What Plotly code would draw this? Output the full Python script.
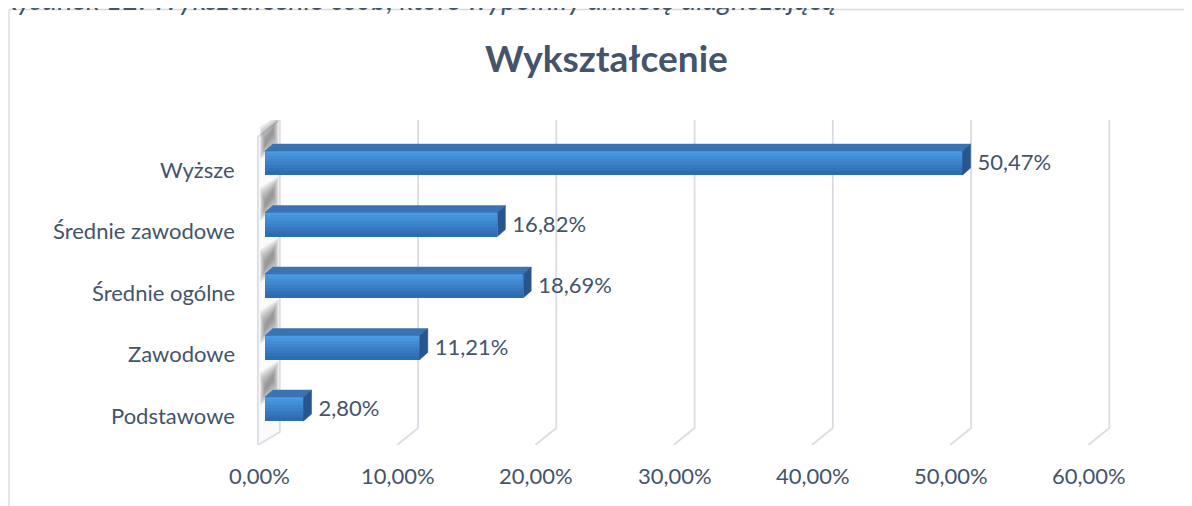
import plotly.graph_objects as go

# ---------------- data ----------------
categories = ["Podstawowe", "Zawodowe", "Średnie ogólne", "Średnie zawodowe", "Wyższe"]
values = [2.80, 11.21, 18.69, 16.82, 50.47]
tick_values = [0, 10, 20, 30, 40, 50, 60]
tick_labels = ["0,00%", "10,00%", "20,00%", "30,00%", "40,00%", "50,00%", "60,00%"]
title_text = "Wykształcenie"
caption_text = "Rysunek 12. Wykształcenie osób, które wypełniły ankietę diagnozującą"

# ---------------- layout constants (page offset of 8px body margin) ----------------
OFF = 8
W, H = 1192 - OFF, 506 - OFF
ML, MR, MT, MB = 251 - OFF, 70, 120 - OFF, 61
XR = [-1, 62]
YR = [-0.585, 4.70]
PW, PH = W - ML - MR, H - MT - MB
PXX = PW / (XR[1] - XR[0])   # px per x unit
PXY = PH / (YR[1] - YR[0])   # px per y unit

def ux(px):
    return px / PXX

def uy(px):
    return px / PXY

def paper_x(px):   # px in page coordinates
    return (px - OFF - ML) / PW

def paper_y(py):   # py in page coordinates
    return (H - MB - (py - OFF)) / PH

def poly(xs, ys):
    pts = " L ".join(f"{x},{y}" for x, y in zip(xs, ys))
    return f"M {pts} Z"

TEXT = "#44546A"
FONT = "Lato"
GRID = "#D9DDE4"

fig = go.Figure()
shapes = []

# ---- side wall (left) ----
wl, wr = -0.5, ux(15)
wall_x = [wl, wr, wr, wl]
wall_y = [YR[1] - uy(17), YR[1], YR[0] + uy(13), YR[0]]
shapes.append(dict(type="path", xref="x", yref="y", layer="below",
                   path=poly(wall_x, wall_y), fillcolor="#FAFAFA",
                   line=dict(color=GRID, width=1.8)))

# soft wall shadows cast by each bar
h = uy(24)
for i, _ in enumerate(categories):
    for k in range(6):
        top = i + h / 2 + uy(36) - uy(2.5 * k)
        bot = i + h / 2 - uy(6) + uy(2.5 * k)
        xl = wl + 0.15 + k * 0.07
        xr = wr - 0.1 - k * 0.07
        sx = [xl, xr, xr, xl]
        sy = [top - uy(12), top, bot + uy(10), bot - uy(2)]
        shapes.append(dict(type="path", xref="x", yref="y", layer="below",
                           path=poly(sx, sy), fillcolor="rgba(70,70,70,0.12)",
                           line=dict(width=0)))

# ---- gridlines (back plane + floor diagonal) ----
gdx_back = ux(15)
gdx_front = -ux(6)
for t in tick_values[1:]:
    gx = [t + gdx_back, t + gdx_back, t + gdx_front]
    gy = [YR[1], YR[0] + uy(17), YR[0]]
    shapes.append(dict(type="path", xref="x", yref="y", layer="below",
                       path="M " + " L ".join(f"{x},{y}" for x, y in zip(gx, gy)),
                       line=dict(color=GRID, width=1.8)))

# ---- bars: front face as gradient strips ----
n_strips = 8
top_col = (74, 156, 228)
bot_col = (46, 108, 178)
for s in range(n_strips):
    f = s / (n_strips - 1)
    c = tuple(int(top_col[j] + (bot_col[j] - top_col[j]) * f) for j in range(3))
    off = h / 2 - (s + 1) * h / n_strips
    fig.add_trace(go.Bar(
        x=values, y=list(range(len(categories))), orientation="h",
        width=h / n_strips + 0.012, offset=off,
        marker=dict(color=f"rgb{c}", line=dict(width=0)),
        hoverinfo="skip", showlegend=False))

# top and side faces
dxs, dys = ux(8), uy(7)
for i, v in enumerate(values):
    yt = i + h / 2
    yb = i - h / 2
    fig.add_trace(go.Scatter(
        x=[0, v, v + dxs, dxs, 0], y=[yt, yt, yt + dys, yt + dys, yt],
        fill="toself", fillcolor="#3A72B2", line=dict(color="#3A72B2", width=0.5),
        mode="lines", hoverinfo="skip", showlegend=False))
    fig.add_trace(go.Scatter(
        x=[v, v + dxs, v + dxs, v, v], y=[yb, yb + dys, yt + dys, yt, yb],
        fill="toself", fillcolor="#27568E", line=dict(color="#27568E", width=0.5),
        mode="lines", hoverinfo="skip", showlegend=False))

# data labels
fig.add_trace(go.Scatter(
    x=[v + ux(15) for v in values], y=[i - uy(1.5) for i in range(len(values))],
    mode="text", text=[f"{v:.2f}".replace(".", ",") + "%" for v in values],
    textposition="middle right", textfont=dict(family=FONT, size=22, color=TEXT),
    hoverinfo="skip", showlegend=False, cliponaxis=False))

annotations = []
# category labels
for i, c in enumerate(categories):
    annotations.append(dict(x=paper_x(237), xref="paper", y=i, yref="y", yshift=-6,
                            text=c, showarrow=False, xanchor="right", yanchor="middle",
                            font=dict(family=FONT, size=22, color=TEXT)))
# x tick labels
for t, lab in zip(tick_values, tick_labels):
    annotations.append(dict(x=t - ux(5), xref="x", y=paper_y(475), yref="paper",
                            text=lab, showarrow=False, xanchor="center", yanchor="middle",
                            font=dict(family=FONT, size=22, color=TEXT)))
# title
annotations.append(dict(x=paper_x(606), xref="paper", y=paper_y(57), yref="paper",
                        text=f"<b>{title_text}</b>", showarrow=False,
                        xanchor="center", yanchor="middle",
                        font=dict(family=FONT, size=37, color=TEXT)))
# caption (partly cut at top of page)
annotations.append(dict(x=paper_x(838), xref="paper", y=paper_y(-1), yref="paper",
                        text=f"<i>{caption_text}</i>", showarrow=False,
                        xanchor="right", yanchor="middle",
                        font=dict(family=FONT, size=28.5, color=TEXT)))

shapes += [
    dict(type="line", xref="paper", yref="paper", x0=paper_x(9), x1=paper_x(9),
         y0=paper_y(9.5), y1=paper_y(H + 20), line=dict(color="#D9D9D9", width=1.3)),
    dict(type="line", xref="paper", yref="paper", x0=paper_x(9), x1=paper_x(W + 20),
         y0=paper_y(9.5), y1=paper_y(9.5), line=dict(color="#D9D9D9", width=1.3)),
]

fig.update_layout(
    width=W, height=H,
    margin=dict(l=ML, r=MR, t=MT, b=MB),
    paper_bgcolor="white", plot_bgcolor="white",
    barmode="overlay", bargap=0,
    xaxis=dict(range=XR, visible=False, fixedrange=True),
    yaxis=dict(range=YR, visible=False, fixedrange=True),
    annotations=annotations, shapes=shapes,
    showlegend=False,
)

fig.write_html("out.html")
